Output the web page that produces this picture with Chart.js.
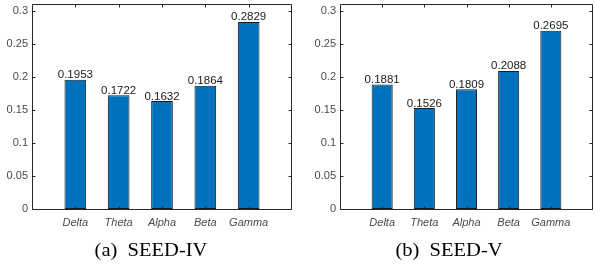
<!DOCTYPE html>
<html><head><meta charset="utf-8">
<script src="https://cdn.jsdelivr.net/npm/chart.js@4.4.0/dist/chart.umd.min.js"></script>
<style>
html,body{margin:0;padding:0;background:#fff;width:595px;height:266px;overflow:hidden;}
.c{position:absolute;top:0;}
.cap{position:absolute;font-family:"Liberation Serif","Times New Roman",serif;font-size:18px;color:#000;white-space:pre;transform:translateX(-50%) scaleX(1.14);top:239px;line-height:22px;}
</style></head><body>
<div class="c" style="left:0;width:297px;height:240px;"><canvas id="c1"></canvas></div>
<div class="c" style="left:298px;width:297px;height:240px;"><canvas id="c2"></canvas></div>
<div class="cap" style="left:151px;">(a)  SEED-IV</div>
<div class="cap" style="left:449px;">(b)  SEED-V</div>
<script>
const bands = ['Delta','Theta','Alpha','Beta','Gamma'];
const seedIV = [0.1953, 0.1722, 0.1632, 0.1864, 0.2829];
const seedV = [0.1881, 0.1526, 0.1809, 0.2088, 0.2695];
const yTicks = [0, 0.05, 0.1, 0.15, 0.2, 0.25, 0.3];
const yMax = 0.31;

const axisColor = '#262626';
const labelColor = '#4a4a4a';

const boxPlugin = {
  id: 'box',
  afterDatasetsDraw(chart) {
    const ctx = chart.ctx, a = chart.chartArea;
    const xs = chart.scales.x, ys = chart.scales.y;
    ctx.save();
    ctx.strokeStyle = axisColor;
    ctx.lineWidth = 1;
    const L = Math.round(a.left)+0.5, R = Math.round(a.right)-0.5, T = Math.round(a.top)+0.5, B = Math.round(a.bottom)+0.5;
    ctx.beginPath();
    ctx.rect(L, T, R-L, B-T);
    ctx.stroke();
    ctx.beginPath();
    const tl = 3;
    yTicks.forEach(v => {
      const y = Math.round(ys.getPixelForValue(v))+0.5;
      ctx.moveTo(L, y); ctx.lineTo(L+tl, y);
      ctx.moveTo(R, y); ctx.lineTo(R-tl, y);
    });
    bands.forEach((b, i) => {
      const x = Math.round(xs.getPixelForValue(i+1))+0.5;
      ctx.moveTo(x, B); ctx.lineTo(x, B-tl);
      ctx.moveTo(x, T); ctx.lineTo(x, T+tl);
    });
    ctx.stroke();
    // value labels
    ctx.fillStyle = '#1a1a1a';
    ctx.font = '11.5px "Liberation Sans", Arial, sans-serif';
    ctx.textAlign = 'center';
    ctx.textBaseline = 'alphabetic';
    const meta = chart.getDatasetMeta(0);
    const vals = chart.data.datasets[0].data;
    meta.data.forEach((el, i) => {
      if (vals[i] == null) return;
      ctx.fillText(vals[i].toFixed(4), el.x, el.y - 1.5);
    });
    ctx.restore();
  }
};

function makeChart(id, values, yWidth, rightPad) {
  new Chart(document.getElementById(id), {
    type: 'bar',
    data: {
      labels: ['', ...bands, ''],
      datasets: [{
        data: [null, ...values, null],
        backgroundColor: '#0072BD',
        borderColor: '#1a1a1a',
        borderWidth: 1,
        borderSkipped: false,
        barPercentage: 0.5,
        categoryPercentage: 1.0
      }]
    },
    options: {
      responsive: true,
      maintainAspectRatio: false,
      animation: false,
      events: [],
      layout: { padding: { top: 4, right: rightPad, left: 0, bottom: 0 } },
      plugins: { legend: { display: false }, tooltip: { enabled: false } },
      scales: {
        x: {
          type: 'category',
          offset: false,
          grid: { display: false, drawTicks: false },
          border: { display: false },
          ticks: {
            color: labelColor, padding: 7, maxRotation: 0, autoSkip: false,
            font: { family: '"Liberation Sans", Arial, sans-serif', size: 11, style: 'italic' }
          },
          afterFit(s) { s.height = 31; s.paddingLeft = 0; s.paddingRight = 0; }
        },
        y: {
          min: 0, max: yMax,
          grid: { display: false, drawTicks: false },
          border: { display: false },
          afterBuildTicks(s) { s.ticks = yTicks.map(v => ({ value: v })); },
          ticks: {
            color: labelColor, padding: 4,
            font: { family: '"Liberation Sans", Arial, sans-serif', size: 11 },
            callback: v => String(v)
          },
          afterFit(s) { s.width = yWidth; s.paddingTop = 0; s.paddingBottom = 0; }
        }
      }
    },
    plugins: [boxPlugin]
  });
}
makeChart('c1', seedIV, 32, 5);
makeChart('c2', seedV, 42, 2);
</script>
</body></html>
